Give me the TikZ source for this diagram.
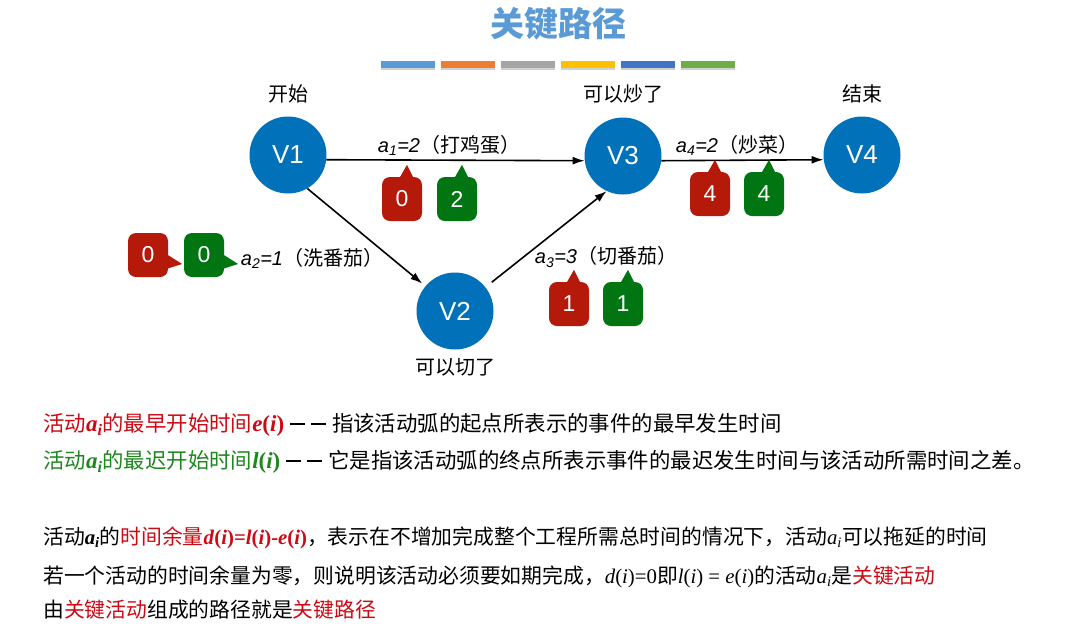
\documentclass[tikz,border=0pt]{standalone}
\usepackage{fontspec}
\setmainfont{Noto Sans CJK SC}
\newfontfamily\lat{Liberation Sans}
\newfontfamily\tms{Liberation Serif}
\usetikzlibrary{arrows.meta}
\definecolor{vblue}{RGB}{1,114,185}
\definecolor{cred}{RGB}{181,25,10}
\definecolor{cgreen}{RGB}{0,117,18}
\definecolor{tred}{RGB}{204,10,20}
\definecolor{tgreen}{RGB}{30,135,30}
\definecolor{ttl}{RGB}{91,155,213}
\definecolor{bA}{RGB}{91,155,213}
\definecolor{bB}{RGB}{237,125,49}
\definecolor{bC}{RGB}{165,165,165}
\definecolor{bD}{RGB}{255,192,0}
\definecolor{bE}{RGB}{68,114,196}
\definecolor{bF}{RGB}{112,173,71}
\newcommand\bai{{\tms\bfseries\itshape a\textsubscript{i}}}
\newcommand\bbai{{\tms\fontsize{23}{24}\selectfont\bfseries\itshape a\textsubscript{i}}}
\newcommand\rai{{\tms\itshape a\textsubscript{i}}}
\newcommand\bfun[1]{{\tms\fontsize{23}{24}\selectfont\bfseries\textit{#1}(\textit{i})}}
\newcommand\ddash{\hspace{6pt}\rule[7pt]{15pt}{2pt}\hspace{6pt}\rule[7pt]{15pt}{2pt}\hspace{6pt}}
\newcommand\uptip[2]{\fill[#2] ([xshift=-3pt,yshift=-2pt]#1.north) -- ([xshift=5pt,yshift=12pt]#1.north) -- ([xshift=12pt,yshift=-2pt]#1.north) -- cycle;}
\newcommand\righttip[2]{\fill[#2] ([xshift=-2pt,yshift=1pt]#1.east) -- ([xshift=14pt,yshift=-9pt]#1.east) -- ([xshift=-2pt,yshift=-14pt]#1.east) -- cycle;}
\tikzset{
  vnode/.style={circle,fill=vblue,minimum size=77pt,inner sep=0pt,text=white,font=\lat\fontsize{26}{28}\selectfont},
  vlabel/.style={font=\fontsize{20}{24}\selectfont},
  elabel/.style={font=\fontsize{20}{22}\selectfont},
  edge/.style={line width=1.6pt,-{Latex[length=12pt,width=8pt]}},
  cbox/.style={rounded corners=8pt,minimum width=40pt,minimum height=44pt,inner sep=0pt,text=white,font=\lat\fontsize{23}{24}\selectfont},
  redbox/.style={cbox,fill=cred},
  greenbox/.style={cbox,fill=cgreen},
  txt/.style={anchor=west,inner sep=0pt,font=\fontsize{20.8}{24}\selectfont},
  txtb/.style={txt,font=\fontsize{21.4}{24}\selectfont},
  bar/.style={minimum width=54pt,minimum height=7pt,inner sep=0pt}
}
\begin{document}
\begin{tikzpicture}[x=1pt,y=-1pt]
\useasboundingbox[fill=white] (0,0) rectangle (1065,638);
% title
\node[font=\fontsize{34}{38}\selectfont\bfseries,text=ttl] (title) at (558,24) {关键路径};
% colour bars
\foreach \c [count=\i] in {bA,bB,bC,bD,bE,bF}{
  \fill[black!18] (379+60*\i-60+2,62) rectangle ++(54,8);
  \node[bar,fill=\c] (bar\i) at (408+60*\i-60,64.5) {};
}
% vertices
\node[vnode] (V1) at (288,155) {V1};
\node[vnode] (V2) at (455,311) {V2};
\node[vnode] (V3) at (623,156) {V3};
\node[vnode] (V4) at (862,155) {V4};
\node[vlabel] (l1) at (288,94) {开始};
\node[vlabel] (l3) at (623,94) {可以炒了};
\node[vlabel] (l4) at (862,94) {结束};
\node[vlabel] (l2) at (455,367) {可以切了};
% edges
\draw[edge] (V1.-7) -- (V3.187);
\draw[edge,shorten >=4pt] (V1.-60) -- (V2.140);
\draw[edge,shorten <=8pt] (V2.38) -- (V3.245);
\draw[edge] (V3.-7) -- (V4.187);
% edge labels
\node[elabel] (e1) at (449,145) {{\lat\itshape a\textsubscript{1}=2}（打鸡蛋）};
\node[elabel] (e2) at (312,258) {{\lat\itshape a\textsubscript{2}=1}（洗番茄）};
\node[elabel] (e3) at (606,257) {{\lat\itshape a\textsubscript{3}=3}（切番茄）};
\node[elabel] (e4) at (737,145) {{\lat\itshape a\textsubscript{4}=2}（炒菜）};
% callouts
\node[redbox] (c1) at (402,199) {0};
\uptip{c1}{cred}
\node[greenbox] (c2) at (457,199) {2};
\uptip{c2}{cgreen}
\node[redbox] (c3) at (148,255) {0};
\righttip{c3}{cred}
\node[greenbox] (c4) at (204,255) {0};
\righttip{c4}{cgreen}
\node[redbox] (c5) at (569,304) {1};
\uptip{c5}{cred}
\node[greenbox] (c6) at (623,304) {1};
\uptip{c6}{cgreen}
\node[redbox] (c7) at (710,194) {4};
\uptip{c7}{cred}
\node[greenbox] (c8) at (764,194) {4};
\uptip{c8}{cgreen}
% text
\node[txtb] (t1) at (43,425) {\textcolor{tred}{活动\bbai 的最早开始时间\bfun{e}}\ddash 指该活动弧的起点所表示的事件的最早发生时间};
\node[txtb] (t2) at (43,462) {\textcolor{tgreen}{活动\bbai 的最迟开始时间\bfun{l}}\ddash 它是指该活动弧的终点所表示事件的最迟发生时间与该活动所需时间之差。};
\node[txt] (t3) at (43,538) {活动\bai 的\textcolor{tred}{时间余量{\tms\bfseries\textit{d}(\textit{i})=\textit{l}(\textit{i})-\textit{e}(\textit{i})}}，表示在不增加完成整个工程所需总时间的情况下，活动\rai 可以拖延的时间};
\node[txt] (t4) at (43,577) {若一个活动的时间余量为零，则说明该活动必须要如期完成，{\tms\textit{d}(\textit{i})=0}即{\tms\textit{l}(\textit{i}) = \textit{e}(\textit{i})}的活动\rai 是\textcolor{tred}{关键活动}};
\node[txt] (t5) at (43,610) {由\textcolor{tred}{关键活动}组成的路径就是\textcolor{tred}{关键路径}};
\end{tikzpicture}
\end{document}
